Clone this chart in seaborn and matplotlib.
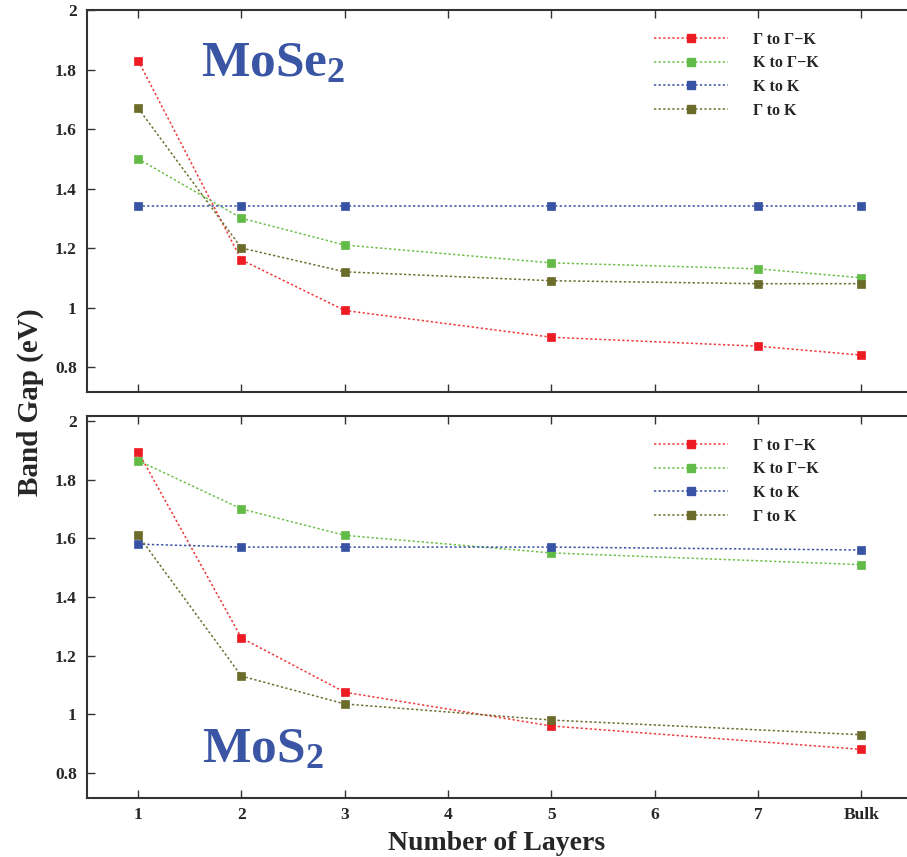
import matplotlib
matplotlib.use("Agg")
import matplotlib.pyplot as plt
import seaborn as sns
import numpy as np
from matplotlib.lines import Line2D

sns.set_theme(style="white")
plt.rcParams['font.family'] = ['Liberation Serif', 'DejaVu Serif']
plt.rcParams['mathtext.fontset'] = 'custom'
plt.rcParams['mathtext.rm'] = 'Liberation Serif'
plt.rcParams['mathtext.bf'] = 'Liberation Serif:bold'
plt.rcParams['mathtext.it'] = 'Liberation Serif:italic'

# ---- data ----
x_ticks = [1, 2, 3, 4, 5, 6, 7, 8]
x_tick_labels = ["1", "2", "3", "4", "5", "6", "7", "Bulk"]
y_ticks = [0.8, 1.0, 1.2, 1.4, 1.6, 1.8, 2.0]
y_tick_labels = ["0.8", "1", "1.2", "1.4", "1.6", "1.8", "2"]
series_names = ["Γ to Γ−K", "K to Γ−K", "K to K", "Γ to K"]

mose2_layers = [1, 2, 3, 5, 7, 8]
mose2_g_gk = [1.83, 1.16, 0.99, 0.90, 0.87, 0.84]
mose2_k_gk = [1.50, 1.30, 1.21, 1.15, 1.13, 1.10]
mose2_k_k = [1.34, 1.34, 1.34, 1.34, 1.34, 1.34]
mose2_g_k = [1.67, 1.20, 1.12, 1.09, 1.08, 1.08]

mos2_layers = [1, 2, 3, 5, 8]
mos2_g_gk = [1.895, 1.26, 1.075, 0.96, 0.88]
mos2_k_gk = [1.865, 1.70, 1.61, 1.55, 1.51]
mos2_k_k = [1.58, 1.57, 1.57, 1.57, 1.56]
mos2_g_k = [1.61, 1.13, 1.035, 0.98, 0.93]

line_colors = ["#f03a3a", "#6cc04a", "#3b53a4", "#6e6e2e"]
marker_colors = ["#ed1c24", "#62bb46", "#3853a4", "#6b6b2a"]

W, H = 907, 857
fig = plt.figure(figsize=(W / 100, H / 100), dpi=100)
ax_top = fig.add_axes([86.5 / W, 1 - 392 / H, 1 - 86.5 / W + 0.01, (392 - 10) / H])
ax_bot = fig.add_axes([86.5 / W, 1 - 797.5 / H, 1 - 86.5 / W + 0.01, (797.5 - 416) / H])

def draw(ax, layers, series, ylim):
    for vals, lc, mc, name in zip(series, line_colors, marker_colors, series_names):
        sns.lineplot(x=layers, y=vals, ax=ax, color=lc, linestyle=(0, (1.5, 1.5)),
                     linewidth=1.1, marker="s", markersize=5.5,
                     markerfacecolor=mc, markeredgecolor=mc, markeredgewidth=0.5,
                     label=None, legend=False)
    ax.set_xlim(0.5, 8.53)
    ax.set_ylim(*ylim)
    ax.set_xticks(x_ticks)
    ax.set_yticks(y_ticks)
    ax.set_yticklabels(y_tick_labels, fontsize=12.5, fontweight="bold")
    ax.tick_params(axis="both", direction="in", length=6, width=1.0, color="#333333",
                   top=True, bottom=True, left=True, right=False, pad=7)
    for s in ["left", "top", "bottom"]:
        ax.spines[s].set_color("#333333")
        ax.spines[s].set_linewidth(1.5)
    ax.spines["right"].set_visible(False)
    ax.set_xlabel("")
    ax.set_ylabel("")
    handles = [Line2D([], [], color=lc, linestyle=(0, (1.5, 1.5)), linewidth=1.1,
                      marker="s", markersize=5.5, markerfacecolor=mc, markeredgecolor=mc)
               for lc, mc in zip(line_colors, marker_colors)]
    ax.legend(handles, series_names, loc="upper left", bbox_to_anchor=(0.665, 0.985),
              frameon=False, prop={"family": "Liberation Serif", "weight": "bold", "size": 11.5},
              handlelength=4.6, handletextpad=1.6, labelspacing=0.48, borderaxespad=0.6)

draw(ax_top, mose2_layers, [mose2_g_gk, mose2_k_gk, mose2_k_k, mose2_g_k], (0.716, 2.0))
draw(ax_bot, mos2_layers, [mos2_g_gk, mos2_k_gk, mos2_k_k, mos2_g_k], (0.716, 2.017))

ax_top.set_xticklabels([])
ax_bot.set_xticklabels(x_tick_labels, fontsize=12.5, fontweight="bold")
ax_bot.tick_params(axis="x", pad=7)

title_color = "#3a55a4"
ax_top.text(273 / W, 1 - 64 / H, r"MoSe$_\mathbf{2}$", transform=fig.transFigure,
            ha="center", va="center", fontsize=37, fontweight="bold", color=title_color)
ax_bot.text(263 / W, 1 - 750 / H, r"MoS$_\mathbf{2}$", transform=fig.transFigure,
            ha="center", va="center", fontsize=37, fontweight="bold", color=title_color)

fig.text(30 / W, 1 - 402 / H, "Band Gap (eV)", rotation=90, ha="center", va="center",
         fontsize=21, fontweight="bold")
fig.text(497 / W, 1 - 843 / H, "Number of Layers", ha="center", va="center",
         fontsize=20, fontweight="bold")

fig.savefig("out.png", dpi=100)
